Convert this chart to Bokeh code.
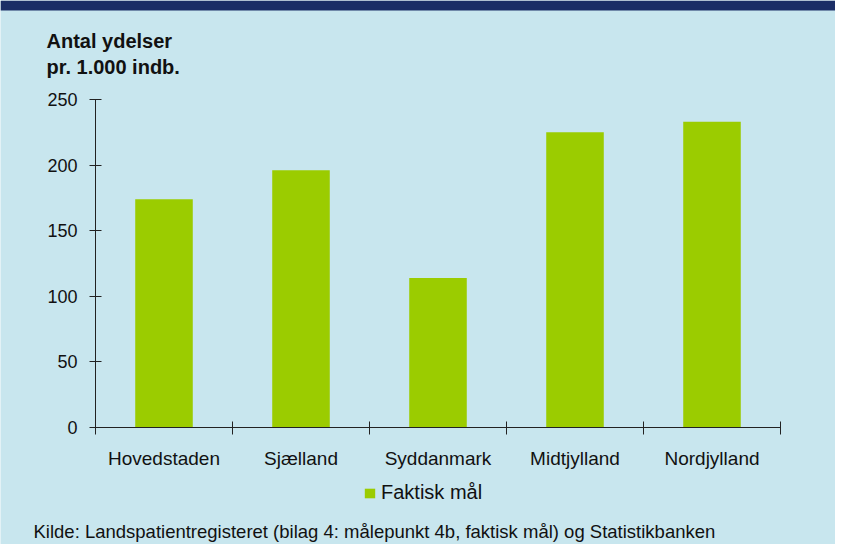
from bokeh.plotting import figure
from bokeh.models import (FixedTicker, Label, Legend, LegendItem, Range1d,
                          BoxAnnotation, ColumnDataSource)
from bokeh.embed import file_html
from bokeh.resources import INLINE

# ---- data ----
regions = ["Hovedstaden", "Sjælland", "Syddanmark", "Midtjylland", "Nordjylland"]
faktisk_maal = [174, 196, 114, 225, 233]
y_ticks = [0, 50, 100, 150, 200, 250]
y_title_1 = "Antal ydelser"
y_title_2 = "pr. 1.000 indb."
series_name = "Faktisk mål"
source_text = "Kilde: Landspatientregisteret (bilag 4: målepunkt 4b, faktisk mål) og Statistikbanken"

# ---- style / layout (pixels) ----
BG = "#c8e6ee"
BAR = "#9bcc00"
NAVY = "#1b2e66"
AX = "#222222"
TXT = "#111111"
FONT = "Liberation Sans"
W, H = 835, 544
AX_L, AX_R = 95, 780          # x pixel of category axis start / end
AX_TOP, AX_BOT = 99, 427      # y pixel of y=ymax / y=0
YMAX = y_ticks[-1]
n = len(regions)

# data ranges chosen so the plot area lands on the pixel box above
ppx = (AX_R - AX_L) / n
ppy = (AX_BOT - AX_TOP) / YMAX
x_range = Range1d(-AX_L / ppx, n + (W - AX_R) / ppx)
y_range = Range1d(-(H - AX_BOT) / ppy, YMAX + AX_TOP / ppy)

xs = [i + 0.5 for i in range(n)]
src = ColumnDataSource(dict(x=xs, top=faktisk_maal, name=regions))

p = figure(width=W, height=H, output_backend="svg", toolbar_location=None,
           x_range=x_range, y_range=y_range,
           min_border=0, min_border_left=0, min_border_right=0,
           min_border_top=0, min_border_bottom=0)
p.background_fill_color = BG
p.border_fill_color = BG
p.outline_line_color = None
p.xgrid.visible = False
p.ygrid.visible = False

# navy header band
p.add_layout(BoxAnnotation(bottom=y_range.end - 10 / ppy, fill_color=NAVY,
                           fill_alpha=1, line_color=None, level="underlay"))

r = p.vbar(x="x", top="top", width=0.42, source=src, fill_color=BAR,
           line_color=None)

# x axis: labels at category centres, ticks at category boundaries
xa = p.xaxis[0]
xa.fixed_location = 0
xa.bounds = (0, n)
xa.ticker = FixedTicker(ticks=xs, minor_ticks=list(range(n + 1)))
xa.major_label_overrides = {x: name for x, name in zip(xs, regions)}
xa.major_tick_line_color = None
xa.major_tick_in = 0
xa.major_tick_out = 0
xa.minor_tick_line_color = AX
xa.minor_tick_in = 6
xa.minor_tick_out = 7
xa.axis_line_color = AX
xa.major_label_standoff = 13
xa.major_label_text_font = FONT
xa.major_label_text_font_size = "19px"
xa.major_label_text_color = TXT

ya = p.yaxis[0]
ya.fixed_location = 0
ya.bounds = (0, YMAX)
ya.ticker = FixedTicker(ticks=y_ticks)
ya.minor_tick_line_color = None
ya.major_tick_in = 6
ya.major_tick_out = 6
ya.major_tick_line_color = AX
ya.axis_line_color = AX
ya.major_label_standoff = 12
ya.major_label_text_font = FONT
ya.major_label_text_font_size = "18px"
ya.major_label_text_color = TXT

# y-axis caption (two bold lines above the axis)
for txt, base in [(y_title_1, 40), (y_title_2, 66)]:
    p.add_layout(Label(x=0, y=YMAX, x_offset=46 - AX_L, y_offset=AX_TOP - base,
                       text=txt, text_font=FONT, text_font_size="20px",
                       text_font_style="bold", text_color=TXT,
                       text_baseline="alphabetic"))

# source note
p.add_layout(Label(x=0, y=0, x_offset=33 - AX_L, y_offset=-(531 - AX_BOT),
                   text=source_text, text_font=FONT, text_font_size="18.5px",
                   text_color=TXT, text_baseline="alphabetic"))

legend = Legend(items=[LegendItem(label=series_name, renderers=[r])],
                location=(363, H - 504), orientation="horizontal",
                background_fill_alpha=0, border_line_color=None,
                padding=0, margin=0, glyph_width=13, glyph_height=12,
                label_standoff=5, label_text_font=FONT,
                label_text_font_size="20px", label_text_color=TXT)
p.add_layout(legend, "center")

open("out.html", "w").write(file_html(p, INLINE))
